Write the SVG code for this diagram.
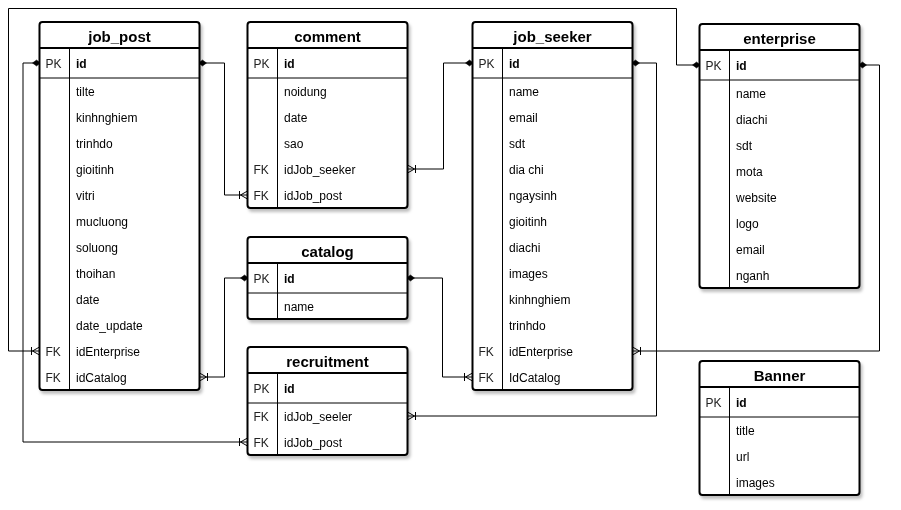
<svg xmlns="http://www.w3.org/2000/svg" width="901" height="510" viewBox="0 0 901 510">
<style>
.box{fill:#fff;stroke:#000;stroke-width:2}
.hl{stroke:#000;stroke-width:2;fill:none}
.ln{stroke:#000;stroke-width:1;fill:none}
.t{font-family:"Liberation Sans",Arial,sans-serif;font-size:15px;font-weight:bold;text-anchor:middle;fill:#000}
.f{font-family:"Liberation Sans",Arial,sans-serif;font-size:12px;fill:#000}
.k{font-family:"Liberation Sans",Arial,sans-serif;font-size:12px;fill:#222}
.b{font-weight:bold}
.c{stroke:#000;stroke-width:1;fill:none;marker-start:url(#one);marker-end:url(#many)}
</style>
<defs>
<filter id="sh" x="-10%" y="-10%" width="130%" height="130%">
<feDropShadow dx="2" dy="3" stdDeviation="1.5" flood-color="#000" flood-opacity="0.25"/>
</filter>
<marker id="one" markerUnits="userSpaceOnUse" markerWidth="12" markerHeight="10" refX="1" refY="5" orient="auto" overflow="visible">
<path d="M0,5 L4,2 L8,5 L4,8 Z" fill="#000" stroke="#000" stroke-width="0.5"/>
</marker>
<marker id="many" markerUnits="userSpaceOnUse" markerWidth="12" markerHeight="10" refX="11" refY="5" orient="auto" overflow="visible">
<path d="M3,1 V9 M4,5 L11,1 M4,5 L11,9" fill="none" stroke="#000" stroke-width="1"/>
</marker>
</defs>
<rect width="901" height="510" fill="#fff"/>

<g id="connectors">
<path class="c" d="M39.5,63 H23 V442 H247.5"/>
<path class="c" d="M699.5,65 H676.5 V8.5 H8.5 V351 H39.5"/>
<path class="c" d="M199.5,63 H224.5 V195 H247.5"/>
<path class="c" d="M472.5,63 H443.5 V169 H407.5"/>
<path class="c" d="M247.5,278 H224.5 V377 H199.5"/>
<path class="c" d="M407.5,278 H442.5 V377 H472.5"/>
<path class="c" d="M632.5,63 H656.5 V416 H407.5"/>
<path class="c" d="M859.5,65 H879.5 V351 H632.5"/>
</g>

<g id="job_post" filter="url(#sh)">
<rect class="box" x="39.5" y="22" width="160" height="368" rx="3"/>
<path class="hl" d="M39.5,48 H199.5"/>
<path class="ln" d="M39.5,78 H199.5 M69.5,48 V390"/>
<text class="t" x="119.5" y="41.5">job_post</text>
<text class="k" x="45.5" y="67.5">PK</text>
<text class="f b" x="76" y="67.5">id</text>
<text class="f" x="76" y="95.5">tilte</text>
<text class="f" x="76" y="121.5">kinhnghiem</text>
<text class="f" x="76" y="147.5">trinhdo</text>
<text class="f" x="76" y="173.5">gioitinh</text>
<text class="f" x="76" y="199.5">vitri</text>
<text class="f" x="76" y="225.5">mucluong</text>
<text class="f" x="76" y="251.5">soluong</text>
<text class="f" x="76" y="277.5">thoihan</text>
<text class="f" x="76" y="303.5">date</text>
<text class="f" x="76" y="329.5">date_update</text>
<text class="k" x="45.5" y="355.5">FK</text>
<text class="f" x="76" y="355.5">idEnterprise</text>
<text class="k" x="45.5" y="381.5">FK</text>
<text class="f" x="76" y="381.5">idCatalog</text>
</g>

<g id="comment" filter="url(#sh)">
<rect class="box" x="247.5" y="22" width="160" height="186" rx="3"/>
<path class="hl" d="M247.5,48 H407.5"/>
<path class="ln" d="M247.5,78 H407.5 M277.5,48 V208"/>
<text class="t" x="327.5" y="41.5">comment</text>
<text class="k" x="253.5" y="67.5">PK</text>
<text class="f b" x="284" y="67.5">id</text>
<text class="f" x="284" y="95.5">noidung</text>
<text class="f" x="284" y="121.5">date</text>
<text class="f" x="284" y="147.5">sao</text>
<text class="k" x="253.5" y="173.5">FK</text>
<text class="f" x="284" y="173.5">idJob_seeker</text>
<text class="k" x="253.5" y="199.5">FK</text>
<text class="f" x="284" y="199.5">idJob_post</text>
</g>

<g id="catalog" filter="url(#sh)">
<rect class="box" x="247.5" y="237" width="160" height="82" rx="3"/>
<path class="hl" d="M247.5,263 H407.5"/>
<path class="ln" d="M247.5,293 H407.5 M277.5,263 V319"/>
<text class="t" x="327.5" y="256.5">catalog</text>
<text class="k" x="253.5" y="282.5">PK</text>
<text class="f b" x="284" y="282.5">id</text>
<text class="f" x="284" y="310.5">name</text>
</g>

<g id="recruitment" filter="url(#sh)">
<rect class="box" x="247.5" y="347" width="160" height="108" rx="3"/>
<path class="hl" d="M247.5,373 H407.5"/>
<path class="ln" d="M247.5,403 H407.5 M277.5,373 V455"/>
<text class="t" x="327.5" y="366.5">recruitment</text>
<text class="k" x="253.5" y="392.5">PK</text>
<text class="f b" x="284" y="392.5">id</text>
<text class="k" x="253.5" y="420.5">FK</text>
<text class="f" x="284" y="420.5">idJob_seeler</text>
<text class="k" x="253.5" y="446.5">FK</text>
<text class="f" x="284" y="446.5">idJob_post</text>
</g>

<g id="job_seeker" filter="url(#sh)">
<rect class="box" x="472.5" y="22" width="160" height="368" rx="3"/>
<path class="hl" d="M472.5,48 H632.5"/>
<path class="ln" d="M472.5,78 H632.5 M502.5,48 V390"/>
<text class="t" x="552.5" y="41.5">job_seeker</text>
<text class="k" x="478.5" y="67.5">PK</text>
<text class="f b" x="509" y="67.5">id</text>
<text class="f" x="509" y="95.5">name</text>
<text class="f" x="509" y="121.5">email</text>
<text class="f" x="509" y="147.5">sdt</text>
<text class="f" x="509" y="173.5">dia chi</text>
<text class="f" x="509" y="199.5">ngaysinh</text>
<text class="f" x="509" y="225.5">gioitinh</text>
<text class="f" x="509" y="251.5">diachi</text>
<text class="f" x="509" y="277.5">images</text>
<text class="f" x="509" y="303.5">kinhnghiem</text>
<text class="f" x="509" y="329.5">trinhdo</text>
<text class="k" x="478.5" y="355.5">FK</text>
<text class="f" x="509" y="355.5">idEnterprise</text>
<text class="k" x="478.5" y="381.5">FK</text>
<text class="f" x="509" y="381.5">IdCatalog</text>
</g>

<g id="enterprise" filter="url(#sh)">
<rect class="box" x="699.5" y="24" width="160" height="264" rx="3"/>
<path class="hl" d="M699.5,50 H859.5"/>
<path class="ln" d="M699.5,80 H859.5 M729.5,50 V288"/>
<text class="t" x="779.5" y="43.5">enterprise</text>
<text class="k" x="705.5" y="69.5">PK</text>
<text class="f b" x="736" y="69.5">id</text>
<text class="f" x="736" y="97.5">name</text>
<text class="f" x="736" y="123.5">diachi</text>
<text class="f" x="736" y="149.5">sdt</text>
<text class="f" x="736" y="175.5">mota</text>
<text class="f" x="736" y="201.5">website</text>
<text class="f" x="736" y="227.5">logo</text>
<text class="f" x="736" y="253.5">email</text>
<text class="f" x="736" y="279.5">nganh</text>
</g>

<g id="Banner" filter="url(#sh)">
<rect class="box" x="699.5" y="361" width="160" height="134" rx="3"/>
<path class="hl" d="M699.5,387 H859.5"/>
<path class="ln" d="M699.5,417 H859.5 M729.5,387 V495"/>
<text class="t" x="779.5" y="380.5">Banner</text>
<text class="k" x="705.5" y="406.5">PK</text>
<text class="f b" x="736" y="406.5">id</text>
<text class="f" x="736" y="434.5">title</text>
<text class="f" x="736" y="460.5">url</text>
<text class="f" x="736" y="486.5">images</text>
</g>
</svg>
